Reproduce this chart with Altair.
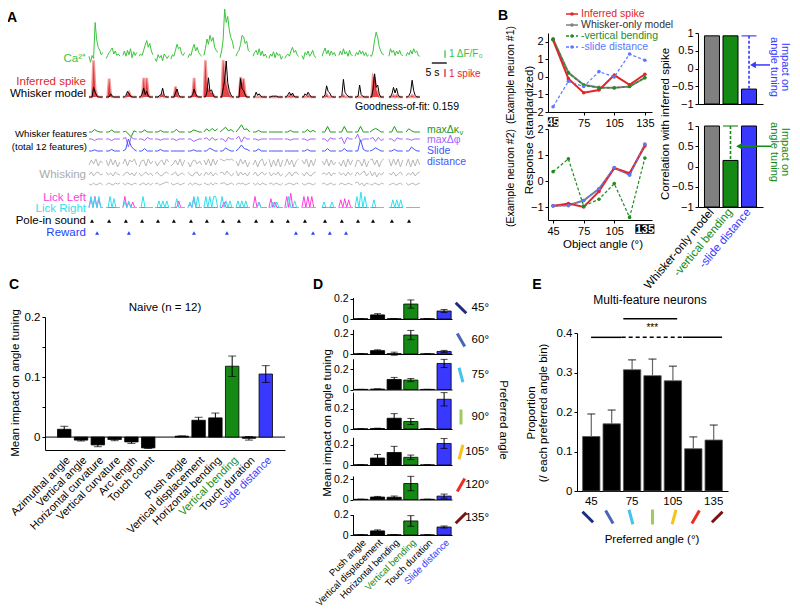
import altair as alt
import pandas as pd

FONT = "Liberation Sans"
W, H = 784, 600


def P(v):
    """page pixel -> chart pixel (page has an 8px margin)"""
    return v - 8


# ======================= DATA =======================
# ---- Panel A : example session, 20 trials ----
trial_start = [0.0, 5.7, 11.3, 16.7, 22.0, 27.3, 33.0, 38.3, 43.7, 49.0,
               54.7, 60.0, 65.3, 71.0, 77.7, 83.3, 88.7, 93.7, 100.0, 105.7]
seg_dur = 4.6
pole_in_t = [1.0, 6.7, 12.3, 17.7, 23.0, 28.3, 34.0, 39.3, 44.7, 50.0,
             55.7, 61.0, 66.3, 72.0, 78.7, 84.3, 89.7, 94.7, 101.0, 106.7]
reward_t = [2.7, 13.3, 35.0, 46.0, 69.0, 74.7, 80.3, 85.7]
goodness_of_fit = 0.159

ca_trials = [
    [0.3, -0.5, 0.4, 0.0, 4.8, 2.5, 1.5, 1.1, 0.5, 0.8],
    [0.0, 0.4, 0.8, 1.1, 1.4, 0.6, 1.0, 0.4, 0.6, 0.3],
    [0.4, 1.0, 0.3, 1.1, 0.5, 1.3, 0.1, 0.9, 0.4, 0.8],
    [0.3, 0.6, 0.4, 1.1, 1.8, 2.4, 1.5, 2.0, 1.0, 0.5],
    [0.0, -0.4, 0.5, 0.1, 0.4, -0.3, 0.6, 0.3, 0.0, 0.4],
    [-0.1, 0.5, 0.3, 1.1, 1.9, 1.3, 1.5, 0.6, 0.4, 0.8],
    [0.1, 0.6, 0.4, 1.3, 1.9, 1.0, 1.5, 0.8, 0.5, 0.3],
    [0.4, 1.3, 2.6, 1.9, 3.1, 2.3, 2.8, 1.5, 1.1, 0.8],
    [0.1, 1.0, 2.5, 6.6, 4.8, 5.6, 3.8, 2.8, 2.3, 1.3],
    [0.3, 0.8, 1.1, 1.9, 3.1, 2.9, 2.0, 2.3, 1.1, 0.9],
    [0.3, 0.8, 1.1, 0.5, 1.3, 0.4, 1.0, 0.3, 0.6, 0.1],
    [0.0, 0.6, 0.3, 0.9, 0.1, 0.8, 0.4, 0.6, -0.1, 0.3],
    [0.0, 0.4, 0.6, 0.3, 1.0, 1.5, 0.8, 1.1, 0.5, 0.3],
    [0.4, -0.1, 0.8, 0.5, 1.0, 0.3, 0.6, 1.1, 0.4, 0.1],
    [0.3, 0.9, 1.4, 0.6, 1.1, 0.4, 1.0, 0.5, 0.8, 0.3],
    [0.4, 1.0, 0.5, 1.3, 0.6, 0.9, 0.3, 1.1, 0.5, 0.4],
    [0.3, 0.8, 0.5, 1.1, 0.6, 1.0, 0.4, 0.8, 0.3, 0.5],
    [0.4, 0.3, 1.0, 2.5, 3.5, 2.8, 1.6, 1.0, 0.6, 0.5],
    [0.3, 1.3, 0.8, 1.1, 0.4, 1.0, 0.6, 1.1, 0.5, 0.4],
    [0.3, 0.8, 0.5, 1.1, 0.6, 1.3, 0.8, 1.0, 0.4, 0.3],
]
spike_trials = [
    [0, 0, 0, 4.6, 1.0, 0.3, 0, 0, 0, 0],
    [0, 0, 2.3, 0.3, 0, 0, 0, 0, 0, 0],
    [0, 0, 0, 0.3, 0.6, 0.2, 0, 0, 0, 0],
    [0, 0, 0, 2.4, 0.5, 2.4, 0.4, 0, 0, 0],
    [0, 0, 0, 0, 0.2, 0.3, 0, 0, 0, 0],
    [0, 0, 0, 1.3, 0.5, 0, 0, 0, 0, 0],
    [0, 0, 0, 0.2, 2.4, 0.3, 0, 0, 0, 0],
    [0, 4.6, 1.2, 0.9, 0.6, 0.5, 0.3, 0, 0, 0],
    [0, 0, 4.6, 2.6, 1.6, 0.8, 0.3, 0, 0, 0],
    [0, 0, 0, 2.5, 1.5, 2.3, 0.5, 0, 0, 0],
    [0, 0, 0, 0, 0, 0, 0, 0, 0, 0],
    [0, 0, 0, 0, 0, 0, 0, 0, 0, 0],
    [0, 0, 0, 0.2, 0, 0.2, 0, 0, 0, 0],
    [0, 0, 0, 0, 0.2, 0, 0, 0, 0, 0],
    [0, 0, 0, 0.3, 0, 0, 0, 0, 0, 0],
    [0, 0, 0, 0.2, 0, 0, 0, 0, 0, 0],
    [0, 0, 0, 0, 0, 0, 0, 0, 0, 0],
    [0, 0, 2.6, 2.3, 0.9, 0.4, 0, 0, 0, 0],
    [0, 0, 0, 0.2, 0, 0.2, 0, 0, 0, 0],
    [0, 0, 0, 0, 0.2, 0, 0, 0, 0, 0],
]
model_trials = [
    [0, 0, 0, 1.2, 0.6, 0.2, 0, 0, 0, 0],
    [0, 0, 0, 0.4, 0.1, 0, 0, 0, 0, 0],
    [0, 0, 0.2, 0.7, 0.4, 0.1, 0, 0, 0, 0],
    [0, 0, 0.4, 1.1, 0.3, 0.7, 0.1, 0, 0, 0],
    [0, 0, 0, 0.2, 0.3, 1.1, 0.2, 0, 0, 0],
    [0, 0, 0, 0.5, 1.0, 0.3, 0, 0, 0, 0],
    [0, 0, 0, 0.3, 1.0, 0.4, 0.1, 0, 0, 0],
    [0, 0, 0.6, 2.4, 0.7, 0.9, 0.3, 0, 0, 0],
    [0, 0, 1.0, 2.1, 4.5, 1.8, 0.8, 0.3, 0, 0],
    [0, 0, 0, 2.3, 1.0, 0.8, 0.3, 0, 0, 0],
    [0, 0, 0.6, 0.2, 0.4, 0.1, 0, 0, 0, 0],
    [0, 0, 0.1, 0.1, 0.1, 0.1, 0, 0, 0, 0],
    [0, 0, 0.3, 0.6, 0.2, 0.5, 0.1, 0, 0, 0],
    [0, 0, 0.4, 0.2, 0.6, 0.3, 0, 0, 0, 0],
    [0, 0, 0.3, 1.4, 0.7, 0.5, 0.1, 0, 0, 0],
    [0, 0, 0.2, 2.2, 0.6, 0.3, 0.1, 0, 0, 0],
    [0, 0, 0.1, 1.5, 0.3, 0.1, 0, 0, 0, 0],
    [0, 0, 1.0, 2.9, 1.2, 1.5, 0.4, 0, 0, 0],
    [0, 0, 0.4, 1.2, 0.5, 1.1, 0.3, 0, 0, 0],
    [0, 0, 0.2, 0.6, 2.1, 0.8, 0.2, 0, 0, 0],
]
kappa_trials = [
    [0, 0, 0.6, 0.2, 0, 0], [0, 0, 0.5, 0, 0, 0], [0, 0.2, -0.5, -1.2, 0.3, 0],
    [0, 0, 0.5, 0, 0, 0], [0, 0, 0.4, 0, 0, 0], [0, 0, 0.7, 0, 0, 0],
    [0, 0, 0.5, 0.3, 0, 0], [0, 0.8, 0.2, 0.9, 0.3, 0.8], [0, 0.6, 1.2, 0.3, 0.6, 0],
    [0, 0.8, 1.8, 0.6, 0.8, 0], [0, 0, 0.4, 0, 0, 0], [0, 0, 0, 0, 0, 0],
    [0, 0, 0.4, 0, 0, 0], [0, 0, 0.6, 0, 0.4, 0], [0, 0, 1.4, 0, 0, 0],
    [0, 0, 1.4, 0, 0, 0], [0, 0, 1.4, 0, 0, 0], [0, 0.5, 0.9, 0.5, 0, 0],
    [0, 0, 1.4, 0, 0, 0], [0, 0.8, 0.3, 0, 0, 0],
]
phi_trials = [
    [0, 0, -0.4, 0, 0, 0], [0, 0, -0.4, 0, 0, 0], [0, 0.4, -2.0, 0.5, 0, 0],
    [0, 0, -0.4, 0.4, 0, 0], [0, 0, -0.3, 0, 0, 0], [0, 0, -0.4, 0, 0, 0],
    [0, 0, -0.6, -0.3, 0, 0], [0, 0.3, -0.4, 0.4, -0.3, 0], [0, 0, -0.7, 0.4, 0, 0],
    [0, 0.7, -0.8, 0.5, 0, 0], [0, 0, -0.3, 0, 0, 0], [0, 0, 0, 0, 0, 0],
    [0, 0, -0.3, 0, 0, 0], [0, 0, -0.4, 0, 0, 0], [0, 0, -0.6, 0.3, 0, 0],
    [0, 0.4, -1.2, 0.4, 0, 0], [0, 1.2, -0.7, 0, 0, 0], [0, 0.4, -0.6, 0.4, -0.4, 0],
    [0, 0, -0.6, 0.3, 0, 0], [0, 0, -0.3, 0, 0, 0],
]
slide_trials = [
    [0, 0, 0.3, 0, 0, 0], [0, 0, 0.4, 0, 0, 0], [0, 0.4, 3.0, 1.2, 0.4, 0],
    [0, 0, 0.6, 0, 0, 0], [0, 0, 0.4, 0, 0, 0], [0, 0, 0, 0, 0, 0],
    [0, 0, 0.3, 0, 0, 0], [0, 0, 0.7, 0.4, 0, 0], [0, 0, 0.8, 0.3, 0, 0],
    [0, 0.6, 1.5, 0.6, 0.4, 0], [0, 0, 0.5, 0, 0, 0], [0, 0, 0, 0, 0, 0],
    [0, 0, 0, 0, 0, 0], [0, 0, 0.4, 0, 0, 0], [0, 0, 0.6, 0, 0, 0],
    [0, 0, 0.6, 0, 0, 0], [0, 0, 2.8, 0.4, 0, 0], [0, 0.3, 0.8, 0.4, 0, 0],
    [0, 0, 0.4, 0, 0, 0], [0, 0, 1.0, 0.4, 0, 0],
]
whisk_top = [
    [-2, 3, -1, 4, -3, 2, 0], [3, -3, 4, -2, 3, -4, 1], [-1, 4, -3, 3, 1, 4, -2],
    [-4, 2, 3, -3, 4, -1, 2], [2, -3, 1, 3, -2, 4, 1], [-3, -1, 3, -2, 4, -3, 3],
    [1, -4, 2, 3, -1, 2, -2], [3, -2, 4, -3, 4, -2, 3], [4, 3, 2, 4, 3, 4, 2],
    [2, -3, 4, -1, 3, -4, 1], [-2, 3, -4, 2, 4, -3, 1], [4, -4, 3, -3, 4, -4, 3],
    [-3, 4, -2, 3, -4, 2, 4], [3, -1, 4, -4, 3, -3, 4], [2, -2, 4, -3, 3, -2, 1],
    [1, -3, 3, -4, 4, -2, 3], [-4, 3, 2, -3, 4, -4, 2], [3, 4, -2, 3, -4, 2, 4],
    [4, -3, 4, -2, 4, -4, 3], [-3, 4, -4, 3, -3, 4, -2],
]
whisk_mid = [
    [-1, 2, -2, 1, 2, -1, 0], [2, -1, 1, -2, 2, 0, -1], [-2, 1, 2, -1, 1, -2, 2],
    [1, -2, 0, 2, -1, 1, -2], [0, 2, -1, -2, 1, 2, 0], [-1, 0, 2, -2, 0, 1, -1],
    [2, -1, -2, 1, 2, -2, 1], [-2, 2, -1, 2, -2, 1, -1], [1, 2, -1, 3, 0, -2, 1],
    [3, -2, 2, -1, 1, -2, 2], [-1, 2, -2, 0, 2, -1, 1], [2, -2, 1, -1, 2, -2, 0],
    [-3, -1, 2, -2, 1, 2, -1], [1, -2, 2, -1, -2, 1, 2], [0, 1, -1, 2, -2, 1, 0],
    [2, -1, 1, -2, 2, -1, 1], [-2, 2, -1, 1, 3, -2, 1], [3, -2, 2, -3, 1, -1, 2],
    [1, -1, 2, -2, 0, 2, -1], [-2, 1, -1, 2, -2, 1, 2],
]
whisk_bot = [
    [0, -1, 1, -1, 0, 1, -1], [-1, 1, 0, -1, 1, 0, 1], [1, -1, 1, 0, -1, 1, 0],
    [-1, 0, 1, -1, 1, -1, 1], [0, 1, -1, 0, 1, 2, 1], [1, -1, 0, 1, -1, 0, 1],
    [-1, 1, -1, 1, 0, -1, 0], [1, 0, -1, 1, -1, 1, 0], [0, 1, 1, -1, 0, 1, -1],
    [-1, 1, 0, 1, -1, 0, 1], [1, -1, 1, -1, 1, 0, -1], [0, 1, -1, 1, 0, -1, 1],
    [-1, 0, 1, 0, -1, 1, 0], [1, -1, 0, 1, 0, -1, 1], [0, 1, -1, 0, 1, -1, 0],
    [-1, 1, 0, -1, 1, 0, -1], [1, 2, -1, 1, -2, 1, 0], [0, -1, 1, 0, -1, 1, 0],
    [-1, 0, 1, -1, 0, 1, -1], [1, -1, 0, 1, -1, 0, 1],
]
lick_left = [
    [0, 0.8, 0, 1, 0, 0.8, 0, 0], [0, 0, 0, 0, 0, 0, 0, 0], [0, 1, 0, 0.5, 0, 0.5, 0, 0],
    [0, 0, 0, 0, 0, 0, 0, 0], [0, 0, 0, 0, 0, 0, 0, 0], [0, 0, 0, 0, 0.6, 0, 0, 0],
    [0, 0.3, 0, 0.9, 0, 0, 0, 0], [0, 0, 0, 0, 0, 0, 0, 0], [0, 0, 0.5, 0, 0, 0, 0, 0],
    [0, 0, 0, 0, 0, 0, 0, 0], [0, 1, 0, 0.5, 0, 0, 0, 0], [0, 0.8, 0, 0.5, 0, 0, 0, 0],
    [0, 1, 0, 1.3, 0, 0, 0, 0], [0, 1, 0, 1, 0, 1, 0, 0], [0, 0, 0, 0, 0, 0, 0, 0],
    [0, 0.7, 0, 0.8, 0, 0.7, 0, 0], [0, 0, 0, 0, 0, 0, 0, 0], [0, 0, 0, 0, 0, 0, 0, 0],
    [0, 0, 0, 0, 0, 0, 0, 0], [0, 0, 0, 0, 0, 0, 0, 0],
]
lick_right = [
    [0, 1, 0, 0.9, 0, 1, 0, 0], [0, 0, 1, 0, 0.8, 0, 0, 0], [0, 0.5, 0, 0.6, 0, 0, 0, 0],
    [0, 0, 1, 0, 0, 0, 0, 0], [0, 0, 0.6, 0, 0.6, 0, 0.6, 0], [0, 0, 0, 0.8, 0, 0, 0, 0],
    [0, 0.5, 0, 1, 0, 1, 0, 0], [0, 1, 0, 1, 0, 1, 1, 0], [0, 1, 0, 0.6, 0, 0.6, 0, 0],
    [0, 0.6, 0, 0.6, 0, 0.6, 0, 0], [0, 0, 0, 0.5, 0, 0, 0, 0], [0, 0, 0.5, 0, 0.5, 0, 0, 0],
    [0, 0, 1, 0, 0, 0.6, 0, 0], [0, 0, 0, 0, 0, 0, 0, 0], [0, 0.5, 0, 0, 0, 0.5, 0, 0],
    [0, 0, 0, 0, 0, 0, 0, 0], [0, 1, 0, 1.4, 0, 1, 0, 0], [0, 0, 0.7, 0, 0, 0, 0, 0],
    [0, 0, 0.7, 0, 0.7, 0, 0.7, 0], [0, 0, 0, 0, 0, 0, 0, 0],
]

# ---- Panel B ----
b_angles = [45, 60, 75, 90, 105, 120, 135]
b_series = ["Inferred spike", "Whisker-only model", "-vertical bending", "-slide distance"]
n1_vals = {
    "Inferred spike": [2.1, -0.1, -0.9, -0.75, 0.1, -0.45, 0.15],
    "Whisker-only model": [2.15, 0.25, -0.45, -0.6, -0.62, -0.55, -0.05],
    "-vertical bending": [2.15, 0.22, -0.48, -0.63, -0.63, -0.55, -0.05],
    "-slide distance": [-1.7, -0.25, -0.55, 0.3, 0.0, 1.3, 0.95],
}
n2_vals = {
    "Inferred spike": [-0.96, -0.87, -1.0, -0.4, 0.5, 0.3, 1.35],
    "Whisker-only model": [-0.95, -0.93, -0.75, -0.3, 0.5, 0.25, 1.4],
    "-vertical bending": [0.36, 0.85, -0.97, -0.7, -0.1, -1.4, 0.88],
    "-slide distance": [-0.95, -0.95, -0.75, -0.3, 0.52, 0.22, 1.42],
}
n1_pref = 45
n2_pref = 135
b_models = ["Whisker-only model", "-vertical bending", "-slide distance"]
b_corr_top = [0.92, 0.92, -0.58]
b_corr_bot = [1.0, 0.15, 1.0]

# ---- Panel C ----
c_features = ["Azimuthal angle", "Vertical angle", "Horizontal curvature", "Vertical curvature",
              "Arc length", "Touch count", "Push angle", "Vertical displacement",
              "Horizontal bending", "Vertical bending", "Touch duration", "Slide distance"]
c_mean = [0.013, -0.005, -0.013, -0.004, -0.008, -0.018, 0.0015, 0.028, 0.032, 0.118, -0.002, 0.105]
c_sem = [0.005, 0.0015, 0.003, 0.002, 0.0025, 0.001, 0.0005, 0.005, 0.008, 0.017, 0.003, 0.014]

# ---- Panel D ----
d_features = ["Push angle", "Vertical displacement", "Horizontal bending",
              "Vertical bending", "Touch duration", "Slide distance"]
d_angles = [45, 60, 75, 90, 105, 120, 135]
d_mean = [
    [0.002, 0.040, 0.002, 0.146, 0.002, 0.078],
    [0.002, 0.033, 0.003, 0.185, 0.001, 0.025],
    [0.001, 0.004, 0.098, 0.092, 0.001, 0.254],
    [0.001, 0.005, 0.105, 0.073, 0.001, 0.290],
    [0.002, 0.068, 0.122, 0.075, 0.001, 0.210],
    [0.002, 0.024, 0.022, 0.156, 0.002, 0.033],
    [0.002, 0.040, 0.002, 0.137, 0.001, 0.078],
]
d_sem = [
    [0.001, 0.012, 0.001, 0.040, 0.001, 0.015],
    [0.001, 0.008, 0.015, 0.045, 0.001, 0.010],
    [0.001, 0.002, 0.020, 0.015, 0.001, 0.040],
    [0.001, 0.003, 0.045, 0.030, 0.001, 0.065],
    [0.001, 0.035, 0.060, 0.022, 0.001, 0.048],
    [0.001, 0.006, 0.012, 0.070, 0.001, 0.020],
    [0.001, 0.010, 0.001, 0.052, 0.001, 0.010],
]

# ---- Panel E ----
e_angles = [45, 60, 75, 90, 105, 120, 135]
e_mean = [0.138, 0.170, 0.307, 0.292, 0.279, 0.107, 0.129]
e_sem = [0.057, 0.035, 0.025, 0.042, 0.037, 0.030, 0.038]

# ======================= STYLE =======================
CA_GREEN = "#3cc43c"
RED = "#e0262b"
K_GREEN = "#229922"
PHI_PURPLE = "#a066ff"
SLIDE_BLUE = "#4455ff"
WHISK_GRAY = "#b0b0b0"
LICK_L = "#ff3de0"
LICK_R = "#2fe0ee"
REWARD_BLUE = "#2244ff"
B_GRAY = "#808080"
B_GREEN = "#1e8c1e"
B_BLUE = "#5b78ff"
BAR_GREEN = "#148a14"
BAR_BLUE = "#3838ff"
ANGLE_COLORS = ["#1d2b80", "#4a66b8", "#45c3ec", "#9ccc5c", "#f6c21c", "#ee2c24", "#7a1212"]
SERIES_COLORS = [RED, B_GRAY, B_GREEN, B_BLUE]


def feat_color(f):
    return {"Vertical bending": BAR_GREEN, "Slide distance": BAR_BLUE,
            "-vertical bending": BAR_GREEN, "-slide distance": BAR_BLUE}.get(f, "black")


ONE = pd.DataFrame({"k": [0]})
layers = []
L = layers.append


def lin(domain, r0, r1):
    return alt.Scale(domain=domain, range=[P(r0), P(r1)], nice=False, zero=False)


def yax(xpage, values, size=11, **kw):
    d = dict(orient="left", offset=-P(xpage), values=values, format="~g", title=None,
             labelFontSize=size, tickSize=3, labelPadding=2, grid=False)
    d.update(kw)
    return alt.Axis(**d)


def xax(ypage, **kw):
    d = dict(orient="bottom", offset=P(ypage) - H, title=None, grid=False, labelFlush=False)
    d.update(kw)
    return alt.Axis(**d)


def txt(s, x, y, size=11, color="black", align="left", angle=0, weight="normal"):
    return alt.Chart(ONE).mark_text(
        text=s, align=align, baseline="middle", angle=angle, fontSize=size,
        color=color, fontWeight=weight, font=FONT
    ).encode(x=alt.value(P(x)), y=alt.value(P(y)))


def label_color_cond():
    return {"condition": [{"test": "datum.value == 'Vertical bending' || datum.value == '-vertical bending'", "value": BAR_GREEN},
                          {"test": "datum.value == 'Slide distance' || datum.value == '-slide distance'", "value": BAR_BLUE}],
            "value": "black"}


# ======================= PANEL A =======================
def seg_frame(trials):
    rows = []
    for i, vals in enumerate(trials):
        n = len(vals)
        for k, v in enumerate(vals):
            rows.append({"trial": i, "t": trial_start[i] + seg_dur * k / (n - 1), "v": v})
    return pd.DataFrame(rows)


T_SCALE = lin([0, 111.7], 89, 424)
CA_Y = lin([-1, 6.6], 66, 9)
SP_Y = lin([0, 5], 97, 57)
LICK_Y = lin([0, 1.5], 207.5, 191)


def feat_scale(c):
    return lin([-2, 2], c + 8, c - 8)


def whisk_scale(c):
    return lin([-10, 10], c + 10, c - 10)


def trace(trials, yscale, color, width=1.0, opacity=1.0):
    return alt.Chart(seg_frame(trials)).mark_line(
        color=color, strokeWidth=width, opacity=opacity
    ).encode(x=alt.X("t:Q", scale=T_SCALE, axis=None),
             y=alt.Y("v:Q", scale=yscale, axis=None),
             detail="trial:N")


L(trace(ca_trials, CA_Y, CA_GREEN, 1.0))
L(trace(spike_trials, SP_Y, "#f29a9a", 2.6))
L(alt.Chart(seg_frame(spike_trials)).mark_area(color=RED, opacity=0.85).encode(
    x=alt.X("t:Q", scale=T_SCALE, axis=None), y=alt.Y("v:Q", scale=SP_Y, axis=None),
    detail="trial:N"))
L(trace(model_trials, SP_Y, "black", 1.0))
L(trace(kappa_trials, feat_scale(132), K_GREEN, 1.0))
L(trace(phi_trials, feat_scale(139), PHI_PURPLE, 1.0))
L(trace(slide_trials, feat_scale(151), SLIDE_BLUE, 1.0))
L(trace(whisk_top, whisk_scale(163), WHISK_GRAY, 0.9))
L(trace(whisk_mid, whisk_scale(174), WHISK_GRAY, 0.9))
L(trace(whisk_bot, whisk_scale(184), WHISK_GRAY, 0.9))
L(trace(lick_left, LICK_Y, LICK_L, 1.0))
L(trace(lick_right, LICK_Y, LICK_R, 1.0))
L(alt.Chart(pd.DataFrame({"t": pole_in_t})).mark_point(
    shape="triangle-up", filled=True, size=16, color="black", opacity=1).encode(
    x=alt.X("t:Q", scale=T_SCALE, axis=None), y=alt.value(P(221))))
L(alt.Chart(pd.DataFrame({"t": reward_t})).mark_point(
    shape="triangle-up", filled=True, size=16, color=REWARD_BLUE, opacity=1).encode(
    x=alt.X("t:Q", scale=T_SCALE, axis=None), y=alt.value(P(233))))

# scale bars
L(alt.Chart(ONE).mark_rule(color=CA_GREEN, strokeWidth=1.3).encode(
    x=alt.value(P(445)), y=alt.YDatum(0.1, scale=CA_Y, axis=None), y2=alt.datum(1.1)))
L(alt.Chart(ONE).mark_rule(color="black", strokeWidth=1.3).encode(
    x=alt.XDatum(114.3, scale=T_SCALE, axis=None), x2=alt.datum(119.3), y=alt.value(P(63))))
L(alt.Chart(ONE).mark_rule(color=RED, strokeWidth=1.3).encode(
    x=alt.value(P(445)), y=alt.YDatum(2.5, scale=SP_Y, axis=None), y2=alt.datum(3.5)))

L(txt("A", 12, 18, 14, weight="bold", align="center"))
L(txt("Ca²⁺", 86, 59, 11.5, CA_GREEN, "right"))
L(txt("Inferred spike", 86, 82, 11.5, RED, "right"))
L(txt("Whisker model", 86, 93.5, 11.5, "black", "right"))
L(txt("Whisker features", 87, 134, 9.6, "black", "right"))
L(txt("(total 12 features)", 87, 146.5, 9.6, "black", "right"))
L(txt("Whisking", 86, 175, 11.5, "#aaaaaa", "right"))
L(txt("Lick Left", 86, 198, 11.5, LICK_L, "right"))
L(txt("Lick Right", 86, 209, 11.5, LICK_R, "right"))
L(txt("Pole-in sound", 86, 221, 11.5, "black", "right"))
L(txt("Reward", 86, 232.5, 11.5, REWARD_BLUE, "right"))
L(txt("maxΔκ", 427, 129.5, 10.5, K_GREEN))
L(txt("v", 459.5, 133, 7.5, K_GREEN))
L(txt("maxΔφ", 427, 140, 10.5, PHI_PURPLE))
L(txt("Slide", 427, 151, 10.5, SLIDE_BLUE))
L(txt("distance", 427, 162, 10.5, SLIDE_BLUE))
L(txt("1 ΔF/F₀", 449, 54, 10, CA_GREEN))
L(txt("5 s", 432.5, 73, 10.5, "black", "center"))
L(txt("1 spike", 449, 73.5, 10, RED))
L(txt(f"Goodness-of-fit: {goodness_of_fit}", 459, 107, 10.5, "black", "right"))

# ======================= PANEL B =======================
B_X = lin([40, 142], 548, 652)
N1_Y = lin([-2, 2.5], 112, 33)
N2_Y = lin([-1.5, 2], 220, 129)
styles = {
    "Inferred spike": dict(color=RED, width=2.0, dash=None),
    "Whisker-only model": dict(color=B_GRAY, width=2.0, dash=None),
    "-vertical bending": dict(color=B_GREEN, width=1.2, dash=[3, 2]),
    "-slide distance": dict(color=B_BLUE, width=1.2, dash=[3, 2]),
}
draw_order = ["Whisker-only model", "Inferred spike", "-vertical bending", "-slide distance"]


def series_layer(vals, yscale, name, axis_x=None, axis_y=None):
    st = styles[name]
    mk = dict(color=st["color"], strokeWidth=st["width"],
              point=alt.OverlayMarkDef(color=st["color"], filled=True, size=13))
    if st["dash"]:
        mk["strokeDash"] = st["dash"]
    df = pd.DataFrame({"angle": b_angles, "v": vals})
    return alt.Chart(df).mark_line(**mk).encode(
        x=alt.X("angle:Q", scale=B_X, axis=axis_x),
        y=alt.Y("v:Q", scale=yscale, axis=axis_y))


for i, name in enumerate(draw_order):
    if i == 0:
        L(series_layer(n1_vals[name], N1_Y, name,
                       xax(112, values=[75, 105, 135], labelFontSize=11, tickSize=3),
                       yax(548, [-2, -1, 0, 1, 2])))
        L(series_layer(n2_vals[name], N2_Y, name,
                       xax(220, values=[45, 75, 105], labelFontSize=11, tickSize=3),
                       yax(548, [-1, 0, 1, 2])))
    else:
        L(series_layer(n1_vals[name], N1_Y, name))
        L(series_layer(n2_vals[name], N2_Y, name))

# highlighted preferred angles
for pref, ypg, path, sz in [(n1_pref, 122, "M-1,-0.9L1,-0.9L1,0.9L-1,0.9Z", 110),
                            (n2_pref, 229, "M-1,-0.5L1,-0.5L1,0.5L-1,0.5Z", 361)]:
    dfp = pd.DataFrame({"angle": [pref], "lab": [str(pref)]})
    L(alt.Chart(dfp).mark_point(shape=path, size=sz, filled=True, color="black", opacity=1).encode(
        x=alt.X("angle:Q", scale=B_X, axis=None), y=alt.value(P(ypg))))
    L(alt.Chart(dfp).mark_text(color="white", fontSize=11, font=FONT, fontWeight="bold").encode(
        x=alt.X("angle:Q", scale=B_X, axis=None), y=alt.value(P(ypg + 0.5)), text="lab:N"))

# legend
leg_df = pd.DataFrame({"series": b_series})
LEG_Y = alt.Scale(type="point", domain=b_series, range=[P(14), P(47)], padding=0)
LEG_C = alt.Scale(domain=b_series, range=SERIES_COLORS)
LEG_D = alt.Scale(domain=b_series, range=[[1, 0], [1, 0], [3, 2], [3, 2]])
L(alt.Chart(leg_df).mark_rule(strokeWidth=1.6).encode(
    x=alt.value(P(566)), x2=alt.value(P(578)),
    y=alt.Y("series:N", scale=LEG_Y, axis=None),
    color=alt.Color("series:N", scale=LEG_C, legend=None),
    strokeDash=alt.StrokeDash("series:N", scale=LEG_D, legend=None)))
L(alt.Chart(leg_df).mark_point(filled=True, size=13, opacity=1).encode(
    x=alt.value(P(572)), y=alt.Y("series:N", scale=LEG_Y, axis=None),
    color=alt.Color("series:N", scale=LEG_C, legend=None)))
L(alt.Chart(leg_df).mark_text(align="left", fontSize=10.5, font=FONT).encode(
    x=alt.value(P(581)), y=alt.Y("series:N", scale=LEG_Y, axis=None), text="series:N",
    color=alt.Color("series:N", scale=alt.Scale(domain=b_series, range=[RED, "#333333", B_GREEN, B_BLUE]), legend=None)))

L(txt("B", 503, 16, 14, weight="bold", align="center"))
L(txt("Response (standardized)", 530, 130, 11.5, angle=270, align="center"))
L(txt("(Example neuron #1)", 511, 75, 10.5, angle=270, align="center"))
L(txt("(Example neuron #2)", 511, 178, 10.5, angle=270, align="center"))
L(txt("Object angle (°)", 603, 245, 11.5, align="center"))

# correlation bars
BB_X = alt.Scale(domain=b_models, range=[P(698), P(763)], paddingInner=0.19, paddingOuter=0.35)
TOP_Y = lin([-1, 1], 104, 33)
BOT_Y = lin([-1, 1], 207, 126)
BAR_C = alt.Scale(domain=b_models, range=[B_GRAY, BAR_GREEN, BAR_BLUE])
for vals, ysc, ypg, labels in [(b_corr_top, TOP_Y, 104, False), (b_corr_bot, BOT_Y, 207, True)]:
    dfb = pd.DataFrame({"model": b_models, "r": vals})
    xaxis = xax(ypg, labels=labels, ticks=False, labelAngle=-50, labelFontSize=11.5,
                labelColor=label_color_cond(), labelPadding=3) if labels else xax(ypg, labels=False, ticks=False)
    L(alt.Chart(dfb).mark_bar(stroke="black", strokeWidth=1).encode(
        x=alt.X("model:N", scale=BB_X, axis=xaxis),
        y=alt.Y("r:Q", scale=ysc, axis=yax(698, [-1, -0.5, 0, 0.5, 1])),
        y2=alt.datum(-1),
        color=alt.Color("model:N", scale=BAR_C, legend=None)))

# impact lines (full model value vs. reduced model)
imp_top = pd.DataFrame({"model": [b_models[2]], "full": [b_corr_top[0]], "red": [b_corr_top[2]]})
imp_bot = pd.DataFrame({"model": [b_models[1]], "full": [b_corr_bot[0]], "red": [b_corr_bot[1]]})
for dfi, ysc, col in [(imp_top, TOP_Y, BAR_BLUE), (imp_bot, BOT_Y, BAR_GREEN)]:
    L(alt.Chart(dfi).mark_rule(color=col, strokeWidth=1.6, strokeDash=[3, 2]).encode(
        x=alt.X("model:N", scale=BB_X, axis=None),
        y=alt.Y("full:Q", scale=ysc, axis=None), y2="red:Q"))
    L(alt.Chart(dfi).mark_tick(color=col, size=15, thickness=1.6, orient="horizontal").encode(
        x=alt.X("model:N", scale=BB_X, axis=None),
        y=alt.Y("full:Q", scale=ysc, axis=None)))

# arrows + annotations
L(alt.Chart(ONE).mark_rule(color=BAR_BLUE, strokeWidth=1.5).encode(
    x=alt.value(P(770)), x2=alt.value(P(755)), y=alt.YDatum(0.1, scale=TOP_Y, axis=None)))
L(alt.Chart(ONE).mark_point(shape="triangle-left", filled=True, size=45, color=BAR_BLUE, opacity=1).encode(
    x=alt.value(P(753)), y=alt.YDatum(0.1, scale=TOP_Y, axis=None)))
L(alt.Chart(ONE).mark_rule(color=BAR_GREEN, strokeWidth=1.5).encode(
    x=alt.value(P(771)), x2=alt.value(P(741)), y=alt.YDatum(0.5, scale=BOT_Y, axis=None)))
L(alt.Chart(ONE).mark_point(shape="triangle-left", filled=True, size=45, color=BAR_GREEN, opacity=1).encode(
    x=alt.value(P(739)), y=alt.YDatum(0.5, scale=BOT_Y, axis=None)))
L(txt("Impact on", 785, 67, 11, BAR_BLUE, "center", angle=90))
L(txt("angle tuning", 774, 67, 11, BAR_BLUE, "center", angle=90))
L(txt("Impact on", 785, 152, 11, BAR_GREEN, "center", angle=90))
L(txt("angle tuning", 774, 152, 11, BAR_GREEN, "center", angle=90))
L(txt("Correlation with inferred spike", 666, 124, 11.5, angle=270, align="center"))

# ======================= PANEL C =======================
c_slots = c_features[:6] + [" "] + c_features[6:]
C_X = alt.Scale(domain=c_slots, range=[P(45), P(285)], paddingInner=0.2, paddingOuter=0.745)
C_Y = lin([-0.0215, 0.2], 450, 317)
FEAT_C = alt.Scale(domain=c_features, range=[feat_color(f) for f in c_features])
c_df = pd.DataFrame({"feature": c_features, "mean": c_mean, "sem": c_sem})
c_df["lo"] = c_df["mean"] - c_df["sem"]
c_df["hi"] = c_df["mean"] + c_df["sem"]

L(alt.Chart(ONE).mark_rule(color="black", strokeWidth=1).encode(
    x=alt.value(P(45)), x2=alt.value(P(285)), y=alt.YDatum(0, scale=C_Y, axis=None)))
L(alt.Chart(c_df).mark_bar(stroke="black", strokeWidth=0.8).encode(
    x=alt.X("feature:N", scale=C_X,
            axis=xax(450, ticks=False, labelAngle=-45, labelFontSize=11, labelPadding=4,
                     labelColor=label_color_cond())),
    y=alt.Y("mean:Q", scale=C_Y,
            axis=yax(45, [0, 0.05, 0.1, 0.15, 0.2], size=11.5,
                     labelExpr="datum.value == 0.05 || datum.value == 0.15 ? '' : datum.label")),
    y2=alt.datum(0),
    color=alt.Color("feature:N", scale=FEAT_C, legend=None)))
L(alt.Chart(c_df).mark_rule(color="black", strokeWidth=1).encode(
    x=alt.X("feature:N", scale=C_X, axis=None),
    y=alt.Y("lo:Q", scale=C_Y, axis=None), y2="hi:Q"))
for col in ["lo", "hi"]:
    L(alt.Chart(c_df).mark_tick(color="black", size=8, thickness=1, orient="horizontal").encode(
        x=alt.X("feature:N", scale=C_X, axis=None),
        y=alt.Y(f"{col}:Q", scale=C_Y, axis=None)))
L(txt("C", 14, 285, 14, weight="bold", align="center"))
L(txt("Naive (n = 12)", 165, 308, 11.5, align="center"))
L(txt("Mean impact on angle tuning", 16, 383, 11.5, angle=270, align="center"))

# ======================= PANEL D =======================
D_X = alt.Scale(domain=d_features, range=[P(353), P(452)], paddingInner=0.15, paddingOuter=0.05)
D_FEAT_C = alt.Scale(domain=d_features, range=[feat_color(f) for f in d_features])
d_zero = [319, 354, 389.5, 429, 465, 499.5, 535]
d_top = [0.21, 0.24, 0.30, 0.36, 0.27, 0.23, 0.20]
d_icon_y = [308, 340, 375, 417, 452, 485, 518]
PX_PER_UNIT = 102.5
for i, ang in enumerate(d_angles):
    ysc = lin([0, d_top[i]], d_zero[i], d_zero[i] - d_top[i] * PX_PER_UNIT)
    dfd = pd.DataFrame({"feature": d_features, "mean": d_mean[i], "sem": d_sem[i]})
    dfd["lo"] = dfd["mean"] - dfd["sem"]
    dfd["hi"] = dfd["mean"] + dfd["sem"]
    last = i == len(d_angles) - 1
    xaxis = xax(d_zero[i], ticks=False, labelAngle=-45, labelFontSize=9.5, labelPadding=2,
                labelColor=label_color_cond()) if last else xax(d_zero[i], labels=False, ticks=False)
    L(alt.Chart(dfd).mark_bar(stroke="black", strokeWidth=0.8).encode(
        x=alt.X("feature:N", scale=D_X, axis=xaxis),
        y=alt.Y("mean:Q", scale=ysc, axis=yax(353, [0, 0.2], size=10.5)),
        y2=alt.datum(0),
        color=alt.Color("feature:N", scale=D_FEAT_C, legend=None)))
    L(alt.Chart(dfd).mark_rule(color="black", strokeWidth=1).encode(
        x=alt.X("feature:N", scale=D_X, axis=None),
        y=alt.Y("lo:Q", scale=ysc, axis=None), y2="hi:Q"))
    for col in ["lo", "hi"]:
        L(alt.Chart(dfd).mark_tick(color="black", size=7, thickness=1, orient="horizontal").encode(
            x=alt.X("feature:N", scale=D_X, axis=None),
            y=alt.Y(f"{col}:Q", scale=ysc, axis=None)))
    L(alt.Chart(pd.DataFrame({"angle": [ang]})).transform_calculate(
        rot="(datum.angle - 90 + 360) % 360").mark_point(
        shape="M0,-1L0,1", size=225, strokeWidth=3, filled=False, opacity=1).encode(
        x=alt.value(P(461)), y=alt.value(P(d_icon_y[i])),
        color=alt.Color("angle:O", scale=alt.Scale(domain=d_angles, range=ANGLE_COLORS), legend=None),
        angle=alt.Angle("rot:Q", scale=None)))
    L(txt(f"{ang}°", 489, d_icon_y[i], 11.5, align="right"))

L(txt("D", 318, 285, 14, weight="bold", align="center"))
L(txt("Mean impact on angle tuning", 328, 423, 11.5, angle=270, align="center"))
L(txt("Preferred angle", 503, 420, 11.5, angle=90, align="center"))

# ======================= PANEL E =======================
E_X = alt.Scale(domain=e_angles, range=[P(577), P(728)], paddingInner=0.15, paddingOuter=0.275)
E_IX = lin([-0.69, 6.71], 577, 728)   # bin-index scale for annotations
E_Y = lin([0, 0.4], 491, 333)
e_df = pd.DataFrame({"angle": e_angles, "mean": e_mean, "sem": e_sem})
e_df["hi"] = e_df["mean"] + e_df["sem"]
L(alt.Chart(e_df).mark_bar(color="black", stroke="#555555", strokeWidth=0.8).encode(
    x=alt.X("angle:O", scale=E_X,
            axis=xax(491, ticks=False, labelAngle=0, labelFontSize=11.5, labelPadding=4,
                     labelExpr="datum.value == 60 || datum.value == 90 || datum.value == 120 ? '' : datum.label")),
    y=alt.Y("mean:Q", scale=E_Y, axis=yax(577, [0, 0.1, 0.2, 0.3, 0.4], size=11.5))))
L(alt.Chart(e_df).mark_rule(color="#666666", strokeWidth=1.2).encode(
    x=alt.X("angle:O", scale=E_X, axis=None),
    y=alt.Y("mean:Q", scale=E_Y, axis=None), y2="hi:Q"))
L(alt.Chart(e_df).mark_tick(color="black", size=8, thickness=1.2, orient="horizontal").encode(
    x=alt.X("angle:O", scale=E_X, axis=None),
    y=alt.Y("hi:Q", scale=E_Y, axis=None)))
sig = pd.DataFrame({"x0": [0.0, 4.5, 1.58], "x1": [1.5, 6.42, 4.22], "y": [0.389, 0.389, 0.436]})
L(alt.Chart(sig).mark_rule(color="black", strokeWidth=1.5).encode(
    x=alt.X("x0:Q", scale=E_IX, axis=None), x2="x1:Q",
    y=alt.Y("y:Q", scale=E_Y, axis=None)))
sig_d = pd.DataFrame({"x0": [1.5], "x1": [4.5], "y": [0.389]})
L(alt.Chart(sig_d).mark_rule(color="black", strokeWidth=1.5, strokeDash=[4, 3]).encode(
    x=alt.X("x0:Q", scale=E_IX, axis=None), x2="x1:Q",
    y=alt.Y("y:Q", scale=E_Y, axis=None)))
L(alt.Chart(ONE).mark_text(text="***", fontSize=10, font=FONT).encode(
    x=alt.XDatum(3, scale=E_IX, axis=None), y=alt.YDatum(0.412, scale=E_Y, axis=None)))
L(alt.Chart(e_df).transform_calculate(rot="(datum.angle - 90 + 360) % 360").mark_point(
    shape="M0,-1L0,1", size=225, strokeWidth=3, filled=False, opacity=1).encode(
    x=alt.X("angle:O", scale=E_X, axis=None), y=alt.value(P(517)),
    color=alt.Color("angle:O", scale=alt.Scale(domain=e_angles, range=ANGLE_COLORS), legend=None),
    angle=alt.Angle("rot:Q", scale=None)))
L(txt("E", 537, 285, 14, weight="bold", align="center"))
L(txt("Multi-feature neurons", 650, 300, 12, align="center"))
L(txt("Proportion", 532, 413, 11.5, angle=270, align="center"))
L(txt("(/ each preferred angle bin)", 544, 413, 11.5, angle=270, align="center"))
L(txt("Preferred angle (°)", 652, 540, 11.5, align="center"))

# ======================= COMPOSE =======================
chart = alt.layer(*layers).resolve_scale(
    x="independent", y="independent", color="independent",
    strokeDash="independent", angle="independent"
).resolve_axis(x="independent", y="independent").properties(
    width=W, height=H, padding=0, autosize=alt.AutoSizeParams(type="none")
).configure_view(stroke=None).configure_axis(
    labelFont=FONT, titleFont=FONT, domainColor="black", tickColor="black",
    labelColor="black", grid=False, domainWidth=1
)

chart.save("out.html", embed_options={"renderer": "svg", "actions": False})
